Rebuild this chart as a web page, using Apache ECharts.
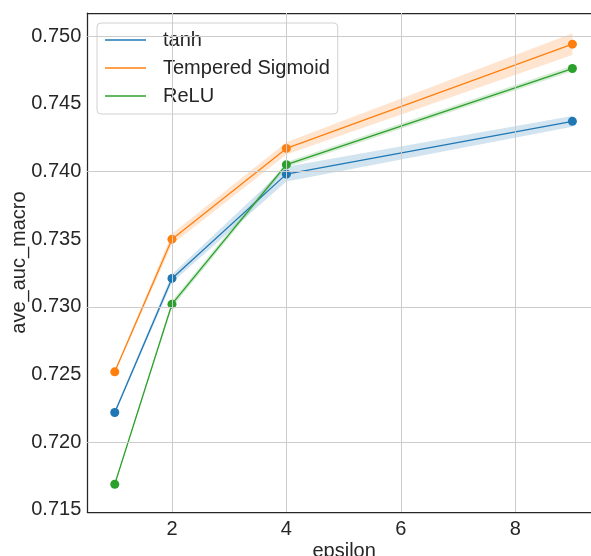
<!DOCTYPE html>
<html>
<head>
<meta charset="utf-8">
<style>
  html, body { margin: 0; padding: 0; background: #ffffff; }
  #chart { width: 591px; height: 556px; }
</style>
<script src="https://cdn.jsdelivr.net/npm/echarts@6/dist/echarts.min.js"></script>
</head>
<body>
<div id="chart"></div>
<script>
// Mean AUC (macro) per privacy budget for three activation functions
const epsilon = [1, 2, 4, 9];
const tanhMean = [0.7222, 0.7321, 0.7398, 0.7437];
const temperedMean = [0.7252, 0.7350, 0.7417, 0.7494];
const reluMean = [0.7169, 0.7302, 0.7405, 0.7476];
// Half-width of the confidence band around each mean
const tanhCI = [0.00015, 0.0003, 0.00055, 0.0004];
const temperedCI = [0.0001, 0.0004, 0.00045, 0.0008];
const reluCI = [0.00005, 0.00025, 0.0002, 0.0002];

const xTicks = [2, 4, 6, 8];
const yTicks = [0.715, 0.720, 0.725, 0.730, 0.735, 0.740, 0.745, 0.750];

const FONT = "'Liberation Sans', Arial, Helvetica, sans-serif";
const TEXT = '#262626';
const GRID = '#cccccc';
const X_MIN = 0.52, X_MAX = 9.5;
const Y_MIN = 0.71485, Y_MAX = 0.7517;

function bandSeries(name, mean, ci, color) {
  const rows = epsilon.map((x, i) => [x, mean[i] - ci[i], mean[i] + ci[i]]);
  return {
    type: 'custom',
    name: name + ' band',
    silent: true,
    z: 2,
    data: rows,
    encode: { x: 0, y: [1, 2] },
    renderItem: function (params, api) {
      if (params.dataIndex !== 0) return null;
      const upper = rows.map(r => api.coord([r[0], r[2]]));
      const lower = rows.map(r => api.coord([r[0], r[1]])).reverse();
      return {
        type: 'polygon',
        shape: { points: upper.concat(lower) },
        style: { fill: color, opacity: 0.2 }
      };
    }
  };
}

function meanSeries(name, mean, color) {
  return {
    type: 'line',
    name: name,
    z: 3,
    data: epsilon.map((x, i) => [x, mean[i]]),
    symbol: 'circle',
    symbolSize: 9,
    showSymbol: true,
    lineStyle: { color: color, width: 1.3 },
    itemStyle: { color: color },
    emphasis: { disabled: true }
  };
}

const gridLines = {
  type: 'line',
  name: 'gridlines',
  z: 1,
  silent: true,
  data: [[epsilon[0], tanhMean[0]]],
  showSymbol: false,
  lineStyle: { opacity: 0 },
  markLine: {
    silent: true,
    symbol: ['none', 'none'],
    label: { show: false },
    animation: false,
    lineStyle: { color: GRID, width: 1, type: 'solid' },
    data: xTicks.map(v => ({ xAxis: v })).concat(yTicks.map(v => ({ yAxis: v })))
  }
};

const chart = echarts.init(document.getElementById('chart'), null, { renderer: 'canvas' });
chart.setOption({
  animation: false,
  backgroundColor: '#ffffff',
  textStyle: { fontFamily: FONT },
  grid: { left: 87.3, right: -10, top: 13, bottom: 44, containLabel: false, outerBoundsMode: 'none' },
  legend: {
    data: ['tanh', 'Tempered Sigmoid', 'ReLU'],
    orient: 'vertical',
    left: 97,
    top: 23,
    icon: 'rect',
    itemWidth: 41,
    itemHeight: 1.5,
    itemGap: 8,
    padding: [7, 8, 8, 8],
    backgroundColor: 'rgba(255,255,255,0.8)',
    borderColor: '#d0d0d0',
    borderWidth: 1,
    borderRadius: 4,
    textStyle: { fontFamily: FONT, fontSize: 20, color: TEXT, padding: [0, 0, 0, 12], lineHeight: 20 }
  },
  xAxis: [{
    type: 'value',
    min: X_MIN,
    max: X_MAX,
    name: 'epsilon',
    nameLocation: 'middle',
    nameGap: 29,
    nameMoveOverlap: false,
    nameTextStyle: { fontFamily: FONT, fontSize: 20, color: TEXT, verticalAlign: 'top' },
    axisLine: { show: true, onZero: false, lineStyle: { color: TEXT, width: 1.25 } },
    axisTick: { show: false },
    splitLine: { show: false },
    axisLabel: {
      customValues: xTicks,
      fontFamily: FONT, fontSize: 20, color: TEXT, margin: 7,
      formatter: v => String(v)
    }
  }, {
    type: 'value',
    position: 'top',
    min: X_MIN,
    max: X_MAX,
    axisLine: { show: true, onZero: false, lineStyle: { color: TEXT, width: 1.25 } },
    axisTick: { show: false },
    axisLabel: { show: false },
    splitLine: { show: false }
  }],
  yAxis: {
    type: 'value',
    min: Y_MIN,
    max: Y_MAX,
    name: 'ave_auc_macro',
    nameLocation: 'middle',
    nameGap: 58,
    nameMoveOverlap: false,
    nameRotate: 90,
    nameTextStyle: { fontFamily: FONT, fontSize: 20, color: TEXT },
    axisLine: { show: true, onZero: false, lineStyle: { color: TEXT, width: 1.25 } },
    axisTick: { show: false },
    splitLine: { show: false },
    axisLabel: {
      customValues: yTicks,
      fontFamily: FONT, fontSize: 20, color: TEXT, margin: 6,
      formatter: v => v.toFixed(3)
    }
  },
  series: [
    gridLines,
    bandSeries('tanh', tanhMean, tanhCI, '#1f77b4'),
    meanSeries('tanh', tanhMean, '#1f77b4'),
    bandSeries('Tempered Sigmoid', temperedMean, temperedCI, '#ff7f0e'),
    meanSeries('Tempered Sigmoid', temperedMean, '#ff7f0e'),
    bandSeries('ReLU', reluMean, reluCI, '#2ca02c'),
    meanSeries('ReLU', reluMean, '#2ca02c')
  ]
});
</script>
</body>
</html>
